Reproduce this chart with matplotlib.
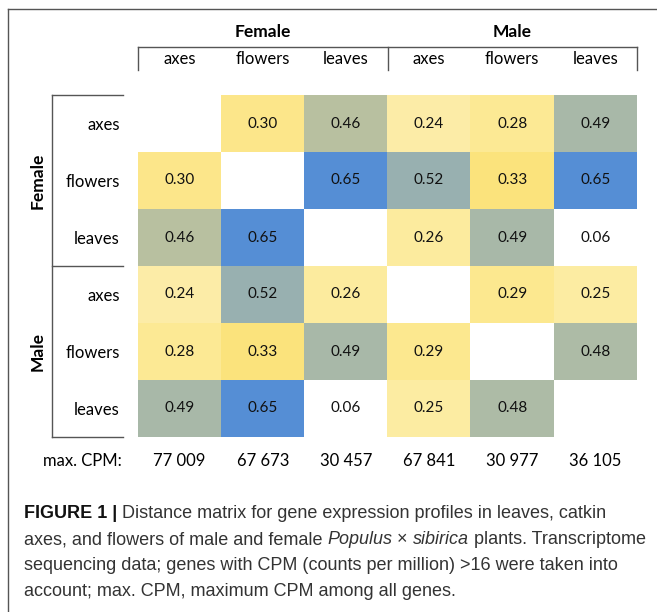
import numpy as np
import matplotlib.pyplot as plt
from matplotlib.colors import LinearSegmentedColormap

# data
tissues = ['axes', 'flowers', 'leaves', 'axes', 'flowers', 'leaves']
sexes = ['Female', 'Male']
dist = np.array([
    [np.nan, 0.30, 0.46, 0.24, 0.28, 0.49],
    [0.30, np.nan, 0.65, 0.52, 0.33, 0.65],
    [0.46, 0.65, np.nan, 0.26, 0.49, 0.06],
    [0.24, 0.52, 0.26, np.nan, 0.29, 0.25],
    [0.28, 0.33, 0.49, 0.29, np.nan, 0.48],
    [0.49, 0.65, 0.06, 0.25, 0.48, np.nan],
])
max_cpm = ['77 009', '67 673', '30 457', '67 841', '30 977', '36 105']

W, H = 657, 612
plt.rcParams['font.family'] = ['Lato', 'DejaVu Sans']

fig = plt.figure(figsize=(W / 100, H / 100), dpi=100)

# overlay in pixel coords for frame, brackets, caption
ov = fig.add_axes([0, 0, 1, 1])
ov.set_xlim(0, W)
ov.set_ylim(H, 0)
ov.axis('off')

# heatmap (Excel style 3-colour scale: white -> yellow -> blue)
x0, x1, y0, y1 = 138, 637, 95, 437
ax = fig.add_axes([x0 / W, 1 - y1 / H, (x1 - x0) / W, (y1 - y0) / H])
vmin, vmid, vmax = 0.06, 0.33, 0.65
cmap = LinearSegmentedColormap.from_list(
    'xl', [(0, '#ffffff'), ((vmid - vmin) / (vmax - vmin), '#fce47c'), (1, '#558ed5')])
ax.imshow(dist, cmap=cmap, vmin=vmin, vmax=vmax, aspect='auto')
n = len(tissues)
for i in range(n):
    for j in range(n):
        if not np.isnan(dist[i, j]):
            ax.text(j, i, f'{dist[i, j]:.2f}', ha='center', va='center',
                    fontsize=11, color='#111111')
ax.set_xticks(range(n))
ax.set_xticklabels(tissues, fontsize=12)
ax.xaxis.tick_top()
ax.set_yticks(range(n))
ax.set_yticklabels(tissues, fontsize=12)
ax.tick_params(length=0)
ax.tick_params(axis='x', pad=20)
ax.tick_params(axis='y', pad=13)
for s in ax.spines.values():
    s.set_visible(False)

# max CPM row below the matrix
ax.text(-0.70, 5.92, 'max. CPM:', ha='right', va='center', fontsize=12, clip_on=False)
for j, v in enumerate(max_cpm):
    ax.text(j, 5.92, v, ha='center', va='center', fontsize=12, clip_on=False)

# frame (cropped box)
lc = '#555555'
ov.plot([7.5, W], [9, 9], color=lc, lw=1)
ov.plot([7.5, 7.5], [9, H], color=lc, lw=1)

# column group brackets
cw = (x1 - x0) / n
ov.plot([x0, x1], [47, 47], color=lc, lw=1)
for k in range(3):
    xx = x0 + k * 3 * cw
    ov.plot([xx, xx], [47, 70], color=lc, lw=1)
for k, s in enumerate(sexes):
    ov.text(x0 + (k * 3 + 1.5) * cw, 32, s, ha='center', va='center',
            fontsize=12.5, fontweight='bold')

# row group brackets
rh = (y1 - y0) / n
ov.plot([52, 52], [y0, y1], color=lc, lw=1)
for k in range(3):
    yy = y0 + k * 3 * rh
    ov.plot([52, 123], [yy, yy], color=lc, lw=1)
for k, s in enumerate(sexes):
    ov.text(38, y0 + (k * 3 + 1.5) * rh, s, ha='center', va='center',
            fontsize=12.5, fontweight='bold', rotation=90)

# caption with mixed styles
cap_font = 'Liberation Sans'
renderer = fig.canvas.get_renderer()
body = '#333333'
lines = [
    [('FIGURE 1 |', 'bold', 'normal', '#111111'),
     (' Distance matrix for gene expression profiles in leaves, catkin', 'normal', 'normal', body)],
    [('axes, and flowers of male and female ', 'normal', 'normal', body),
     ('Populus', 'normal', 'italic', body),
     (' \u00d7 ', 'normal', 'normal', body),
     ('sibirica', 'normal', 'italic', body),
     (' plants. Transcriptome', 'normal', 'normal', body)],
    [('sequencing data; genes with CPM (counts per million) >16 were taken into', 'normal', 'normal', body)],
    [('account; max. CPM, maximum CPM among all genes.', 'normal', 'normal', body)],
]
line_y = [513, 540, 566, 591]
for runs, yy in zip(lines, line_y):
    xx = 24
    for txt, wt, st, col in runs:
        t = ov.text(xx, yy, txt, ha='left', va='center', fontsize=13,
                    fontweight=wt, fontstyle=st, color=col, family=cap_font)
        xx += t.get_window_extent(renderer=renderer).width

fig.savefig('out.png', dpi=100)
